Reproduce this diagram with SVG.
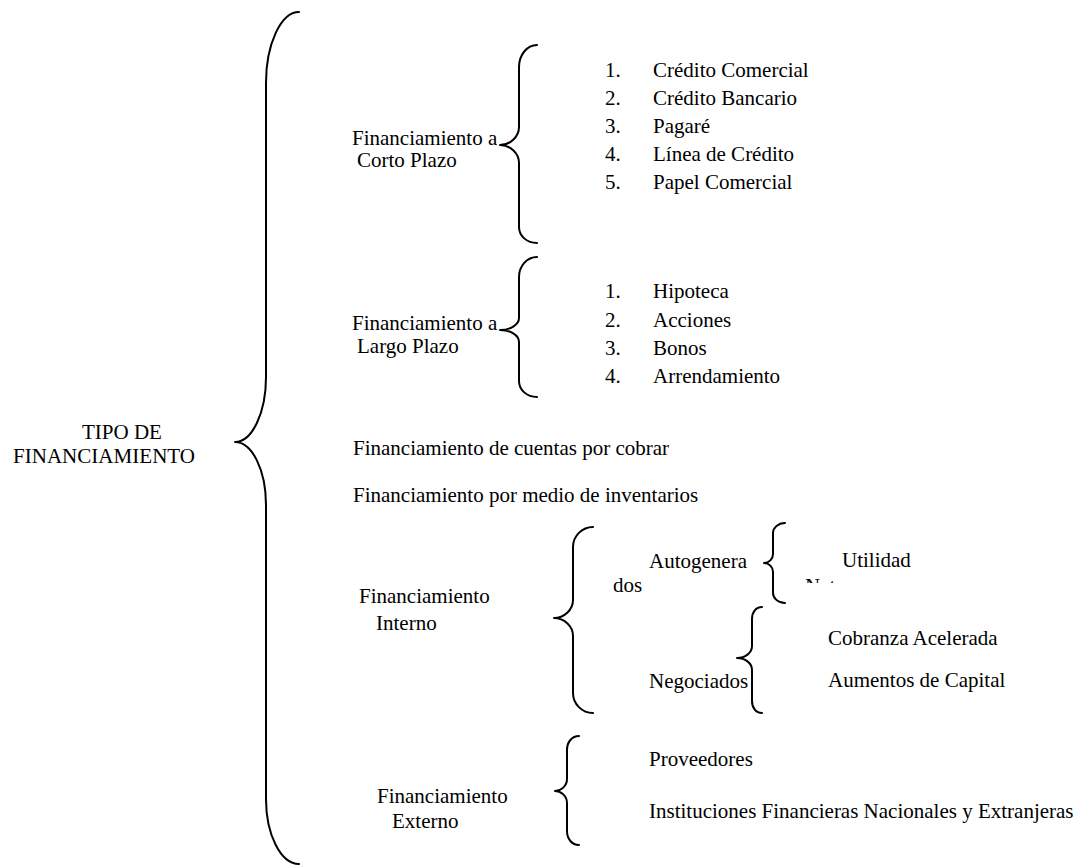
<svg xmlns="http://www.w3.org/2000/svg" width="1081" height="867" viewBox="0 0 1081 867">
  <style>
    text { font-family: "Liberation Serif", Tinos, "Times New Roman", "DejaVu Serif", serif; font-size: 21px; fill: #000; }
    .brace { fill: none; stroke: #000; stroke-width: 2; stroke-linecap: round; stroke-linejoin: round; }
  </style>
  <defs>
    <clipPath id="cut-neta">
      <rect x="790" y="560" width="100" height="23"/>
    </clipPath>
  </defs>
  <rect width="1081" height="867" fill="#fff"/>

  <!-- brackets linking each heading to its sub-items -->
  <g id="connectors">
    <path class="brace" d="M299,12 C281,12 266,44 266,83 L266,377 C266,413 252,442 235,442 C252,442 266,470 266,505 L266,799 C266,835 281,864 299,864"/>
    <path class="brace" d="M537,45 C527,45 519,55 519,67 L519,127 C519,137 510,145 500,145 C510,145 519,153 519,163 L519,227 C519,236 527,243 537,243"/>
    <path class="brace" d="M537,257 C527,257 519,266 519,277 L519,318 C519,325 510,330 500,330 C510,330 519,335 519,342 L519,381 C519,390 527,397 537,397"/>
    <path class="brace" d="M593,527 C582,527 573,536 573,547 L573,600 C573,610 564,618 554,618 C564,618 573,626 573,636 L573,693 C573,704 582,713 593,713"/>
    <path class="brace" d="M785,523 C778,523 773,528 773,533 L773,554 C773,559 769,563 764,563 C769,563 773,567 773,572 L773,593 C773,598 778,603 785,603"/>
    <path class="brace" d="M762,607 C756,607 752,612 752,619 L752,646 C752,653 745,658 737,658 C745,658 752,663 752,670 L752,701 C752,708 756,713 762,713"/>
    <path class="brace" d="M579,736 C572,736 567,742 567,750 L567,779 C567,786 561,791 555,791 C561,791 567,796 567,803 L567,831 C567,839 572,845 579,845"/>
  </g>

  <g font-family="Liberation Serif, serif">
    <g id="tipo">
      <text x="82" y="439">TIPO DE</text>
      <text x="13" y="463" textLength="182" lengthAdjust="spacingAndGlyphs">FINANCIAMIENTO</text>
    </g>

    <g id="corto-plazo">
      <text x="352" y="145">Financiamiento a</text>
      <text x="357" y="167">Corto Plazo</text>
    </g>
    <g id="corto-items">
      <text x="605" y="77">1.</text><text x="653" y="77">Crédito Comercial</text>
      <text x="605" y="105">2.</text><text x="653" y="105">Crédito Bancario</text>
      <text x="605" y="133">3.</text><text x="653" y="133">Pagaré</text>
      <text x="605" y="161">4.</text><text x="653" y="161">Línea de Crédito</text>
      <text x="605" y="189">5.</text><text x="653" y="189">Papel Comercial</text>
    </g>

    <g id="largo-plazo">
      <text x="352" y="330">Financiamiento a</text>
      <text x="357" y="353">Largo Plazo</text>
    </g>
    <g id="largo-items">
      <text x="605" y="298">1.</text><text x="653" y="298">Hipoteca</text>
      <text x="605" y="327">2.</text><text x="653" y="327">Acciones</text>
      <text x="605" y="355">3.</text><text x="653" y="355">Bonos</text>
      <text x="605" y="383">4.</text><text x="653" y="383">Arrendamiento</text>
    </g>

    <g id="cuentas-por-cobrar">
      <text x="353" y="455">Financiamiento de cuentas por cobrar</text>
    </g>
    <g id="inventarios">
      <text x="353" y="502">Financiamiento por medio de inventarios</text>
    </g>

    <g id="interno">
      <text x="359" y="603">Financiamiento</text>
      <text x="376" y="630">Interno</text>
    </g>
    <g id="autogenerados">
      <text x="649" y="568">Autogenera</text>
      <text x="613" y="592">dos</text>
    </g>
    <g id="utilidad">
      <text x="842" y="567">Utilidad</text>
      <text x="805" y="593" clip-path="url(#cut-neta)">Neta</text>
    </g>
    <g id="negociados">
      <text x="649" y="688">Negociados</text>
    </g>
    <g id="negociados-items">
      <text x="828" y="645">Cobranza Acelerada</text>
      <text x="828" y="687">Aumentos de Capital</text>
    </g>

    <g id="externo">
      <text x="377" y="803">Financiamiento</text>
      <text x="392" y="828">Externo</text>
    </g>
    <g id="externo-items">
      <text x="649" y="766">Proveedores</text>
      <text x="649" y="818">Instituciones Financieras Nacionales y Extranjeras</text>
    </g>
  </g>
</svg>
